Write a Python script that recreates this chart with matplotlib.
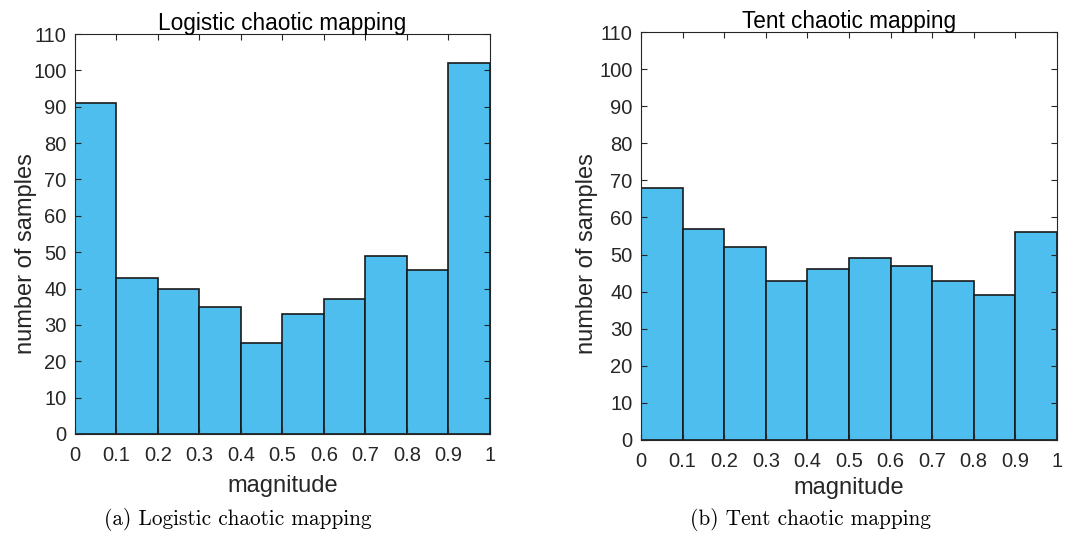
import matplotlib
matplotlib.use("Agg")
import matplotlib.pyplot as plt
import numpy as np

edges = [0, 0.1, 0.2, 0.3, 0.4, 0.5, 0.6, 0.7, 0.8, 0.9, 1.0]
logistic_counts = [91, 43, 40, 35, 25, 33, 37, 49, 45, 102]
tent_counts = [68, 57, 52, 43, 46, 49, 47, 43, 39, 56]
xticks = [0, 0.1, 0.2, 0.3, 0.4, 0.5, 0.6, 0.7, 0.8, 0.9, 1]
xticklabels = ["0", "0.1", "0.2", "0.3", "0.4", "0.5", "0.6", "0.7", "0.8", "0.9", "1"]
yticks = list(range(0, 111, 10))
titles = ["Logistic chaotic mapping", "Tent chaotic mapping"]
captions = ["(a) Logistic chaotic mapping", "(b) Tent chaotic mapping"]

plt.rcParams['font.family'] = ['Liberation Sans', 'DejaVu Sans']

fig = plt.figure(figsize=(10.74, 5.52), dpi=100)
rects = [[0.0698, 0.2138, 0.3864, 0.7246], [0.5968, 0.2029, 0.3873, 0.7391]]
datasets = [logistic_counts, tent_counts]
caption_x = [0.221, 0.755]
ylabel_pos = [0.45, 0.456]
ylabel_pad = [-3, 1]
xlabel_pad = [7, 4]

txtc = '#262626'
for i in range(2):
    ax = fig.add_axes(rects[i])
    ax.hist(edges[:-1], bins=edges, weights=datasets[i], color='#4DBEEE',
            edgecolor='#1a1a1a', linewidth=1.2)
    ax.set_xlim(0, 1)
    ax.set_ylim(0, 110)
    ax.set_xticks(xticks)
    ax.set_xticklabels(xticklabels)
    ax.set_yticks(yticks)
    ax.tick_params(direction='in', top=True, right=True, labelsize=14.5,
                   colors=txtc, length=4, width=0.8)
    ax.tick_params(axis='x', pad=9)
    ax.tick_params(axis='y', pad=6)
    for s in ax.spines.values():
        s.set_color('#262626')
        s.set_linewidth(0.8)
    ax.set_title(titles[i], fontsize=16.3, color='black', pad=3)
    ax.set_xlabel('magnitude', fontsize=17, color=txtc, labelpad=xlabel_pad[i])
    ax.set_ylabel('number of samples', fontsize=17, color=txtc, labelpad=ylabel_pad[i])
    ax.yaxis.label.set_y(ylabel_pos[i])
    fig.text(caption_x[i], 0.058, captions[i], family='cmr10', fontsize=15.3,
             ha='center', va='center', color='black')

fig.savefig('out.png', dpi=100)
